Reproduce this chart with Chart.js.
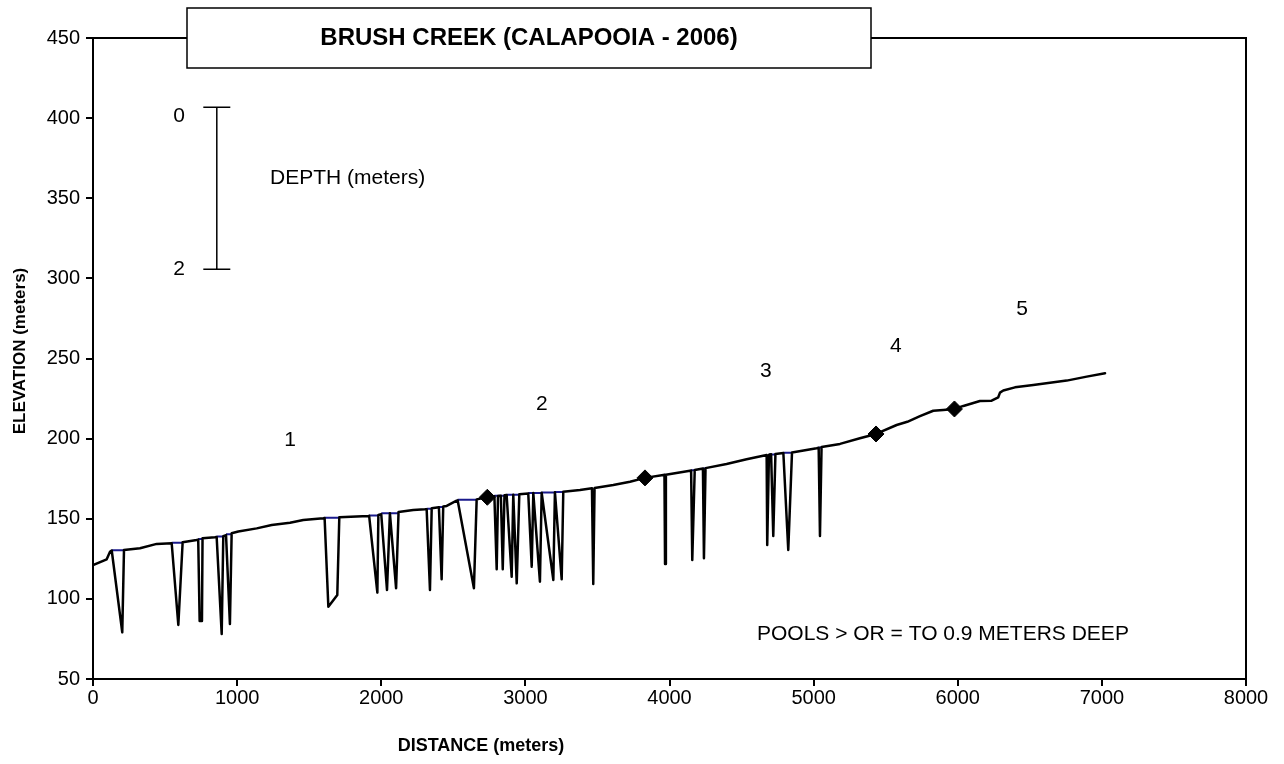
<!DOCTYPE html>
<html>
<head>
<meta charset="utf-8">
<script src="https://cdn.jsdelivr.net/npm/chart.js@4/dist/chart.umd.min.js"></script>
<style>
  html, body { margin: 0; padding: 0; background: #fff; }
</style>
</head>
<body>
<canvas id="profileChart" width="1284" height="764"></canvas>
<script>
// longitudinal profile (distance, elevation) incl. pool bottoms
const profileDist = [
  0, 95, 118, 130, 203, 215, 326, 442, 546, 592, 622, 719, 730, 740, 756, 760,
  846, 858, 893, 904, 923, 950, 962, 1008, 1136, 1240, 1367, 1459, 1598, 1607,
  1633, 1695, 1709, 1910, 1916, 1973, 1980, 2000, 2040, 2060, 2103, 2120, 2222,
  2303, 2315, 2338, 2350, 2400, 2419, 2430, 2454, 2523, 2530, 2643, 2662, 2736,
  2785, 2801, 2810, 2830, 2843, 2855, 2870, 2905, 2916, 2940, 2958, 3020, 3044,
  3055, 3101, 3113, 3194, 3205, 3252, 3263, 3379, 3462, 3471, 3480, 3610, 3726,
  3830, 3957, 3965, 3969, 3975, 4142, 4150, 4158, 4175, 4232, 4239, 4250, 4396,
  4535, 4674, 4678, 4690, 4705, 4720, 4735, 4790, 4824, 4850, 5021, 5035, 5044,
  5055, 5183, 5321, 5433, 5576, 5650, 5738, 5830, 5899, 5977, 6039, 6154, 6235,
  6281, 6293, 6316, 6397, 6524, 6640, 6756, 6895, 7022
];
const profileElev = [
  121, 124.7, 129.4, 130.2, 79.1, 130.5, 131.6, 134.3, 134.7, 83.7, 135.3, 136.7, 137, 86.2, 86.2, 137.8,
  138.4, 138.6, 78.1, 139.2, 139.8, 84.3, 140.9, 142, 144, 146.1, 147.5, 149.2, 150.3, 150.4,
  95.1, 102.4, 150.9, 151.7, 151.8, 103.9, 152.3, 152.8, 105.5, 153.5, 106.6, 154.2, 155.5,
  155.9, 156, 105.5, 156.5, 157.2, 112.2, 157.6, 158, 161.3, 161.5, 106.6, 162.1, 163.4,
  164, 118.5, 164.2, 164.4, 118.5, 164.6, 164.8, 113.8, 165, 109.7, 165.3, 165.8, 120.1,
  166, 110.7, 166.2, 111.8, 166.6, 112.2, 166.8, 167.9, 169, 109.3, 169.2, 171, 173.1,
  175.5, 177.3, 177.4, 121.8, 177.5, 180, 180.1, 124.3, 180.4, 181.3, 125.3, 181.6, 184.2,
  187.1, 189.8, 133.6, 190, 190.2, 139.2, 190.4, 191, 130.5, 191.4, 194, 194.3, 139.2,
  194.8, 196.7, 200.2, 202.9, 208.5, 210.5, 214, 217.4, 217.9, 218.5, 220.4, 223.5, 223.7,
  225.8, 228.7, 230, 232, 233.5, 234.9, 236.2, 238.7, 240.8
];

// water surface over pools
const poolStart = [130, 546, 730, 858, 923, 1607, 1916, 2000, 2315, 2400, 2530, 2785, 2870, 3020, 3113, 3205, 3965, 4150, 4232, 4690, 4790, 5035];
const poolEnd   = [215, 622, 760, 904, 962, 1709, 1980, 2120, 2350, 2430, 2662, 2855, 2958, 3113, 3205, 3263, 3975, 4175, 4250, 4735, 4850, 5055];
const poolSurface = [130.3, 135, 137.4, 138.9, 140.4, 150.6, 152, 153.4, 156.2, 157.4, 161.8, 164.3, 165, 166, 166.4, 166.7, 177.4, 180.2, 181.4, 190.1, 191.2, 194.5];

// reach breaks
const reachDist = [2736, 3830, 5433, 5977];
const reachElev = [163.4, 175.5, 202.9, 218.5];

const reachLabels = ['1', '2', '3', '4', '5'];
const reachLabelDist = [1367, 3115, 4669, 5571, 6446];
const reachLabelElev = [199, 221.6, 242.2, 257.8, 280.9];

const FONT = "'Liberation Sans', Arial, sans-serif";

function buildWaterSurface() {
    const pts = [];
    for (let i = 0; i < poolStart.length; i++) {
        pts.push({ x: poolStart[i], y: poolSurface[i] });
        pts.push({ x: poolEnd[i], y: poolSurface[i] });
        pts.push({ x: poolEnd[i], y: null });
    }
    return pts;
}

// frame, title box and text notes
const decorPlugin = {
    id: 'decor',
    afterDraw(chart) {
        const { ctx, chartArea: a, scales: { x, y } } = chart;
        ctx.save();

        ctx.strokeStyle = '#000';
        ctx.lineWidth = 2;
        ctx.strokeRect(a.left, a.top, a.right - a.left, a.bottom - a.top);

        // title box
        ctx.fillStyle = '#fff';
        ctx.fillRect(187, 8, 684, 60);
        ctx.lineWidth = 1.5;
        ctx.strokeRect(187, 8, 684, 60);
        ctx.fillStyle = '#000';
        ctx.font = 'bold 24px ' + FONT;
        ctx.textAlign = 'center';
        ctx.textBaseline = 'middle';
        ctx.fillText('BRUSH CREEK (CALAPOOIA - 2006)', 529, 38);

        // axis titles
        ctx.font = 'bold 18px ' + FONT;
        ctx.fillText('DISTANCE (meters)', 481, 746);
        ctx.save();
        ctx.translate(20, 351);
        ctx.rotate(-Math.PI / 2);
        ctx.font = 'bold 17px ' + FONT;
        ctx.fillText('ELEVATION (meters)', 0, 0);
        ctx.restore();

        // reach numbers
        ctx.font = '21px ' + FONT;
        reachLabels.forEach((t, i) => {
            ctx.fillText(t, x.getPixelForValue(reachLabelDist[i]), y.getPixelForValue(reachLabelElev[i]));
        });

        // depth scale bar (0 - 2 m)
        const bx = x.getPixelForValue(859);
        const bTop = y.getPixelForValue(406.8);
        const bBot = y.getPixelForValue(305.7);
        ctx.lineWidth = 1.5;
        ctx.beginPath();
        ctx.moveTo(bx, bTop); ctx.lineTo(bx, bBot);
        ctx.moveTo(bx - 13.5, bTop); ctx.lineTo(bx + 13.5, bTop);
        ctx.moveTo(bx - 13.5, bBot); ctx.lineTo(bx + 13.5, bBot);
        ctx.stroke();
        ctx.fillText('0', x.getPixelForValue(597), y.getPixelForValue(401.5));
        ctx.fillText('2', x.getPixelForValue(597), y.getPixelForValue(305.5));

        ctx.textAlign = 'left';
        ctx.fillText('DEPTH (meters)', x.getPixelForValue(1228), y.getPixelForValue(362.5));
        ctx.fillText('POOLS > OR = TO 0.9 METERS DEEP', x.getPixelForValue(4607), y.getPixelForValue(78));

        ctx.restore();
    }
};

const axisCommon = {
    type: 'linear',
    grid: { drawOnChartArea: false, drawTicks: true, tickLength: 7, color: '#000', lineWidth: 2 },
    border: { display: true, color: '#000', width: 2 },
    ticks: { color: '#000', font: { family: FONT, size: 20 }, callback: v => String(v) }
};

new Chart(document.getElementById('profileChart'), {
    type: 'line',
    data: {
        datasets: [
            {
                label: 'Reach break',
                data: reachDist.map((d, i) => ({ x: d, y: reachElev[i] })),
                showLine: false,
                pointStyle: 'rectRot',
                pointRadius: 8,
                pointBackgroundColor: '#000',
                pointBorderColor: '#000',
                order: 0
            },
            {
                label: 'Profile',
                data: profileDist.map((d, i) => ({ x: d, y: profileElev[i] })),
                borderColor: '#000',
                borderWidth: 2.5,
                borderJoinStyle: 'round',
                borderCapStyle: 'round',
                pointRadius: 0,
                tension: 0,
                order: 1
            },
            {
                label: 'Water surface',
                data: buildWaterSurface(),
                borderColor: '#1a1a8c',
                borderWidth: 2,
                pointRadius: 0,
                spanGaps: false,
                order: 2
            }
        ]
    },
    options: {
        responsive: false,
        animation: false,
        devicePixelRatio: 1,
        layout: { padding: { left: 0, top: 38, right: 38, bottom: 0 } },
        plugins: {
            legend: { display: false },
            tooltip: { enabled: false }
        },
        scales: {
            x: {
                ...axisCommon,
                min: 0, max: 8000,
                ticks: { ...axisCommon.ticks, stepSize: 1000, padding: 0, maxRotation: 0 },
                afterFit(scale) { scale.height = 85; }
            },
            y: {
                ...axisCommon,
                min: 50, max: 450,
                ticks: { ...axisCommon.ticks, stepSize: 50, padding: 6 },
                afterFit(scale) { scale.width = 93; }
            }
        }
    },
    plugins: [decorPlugin]
});
</script>
</body>
</html>
